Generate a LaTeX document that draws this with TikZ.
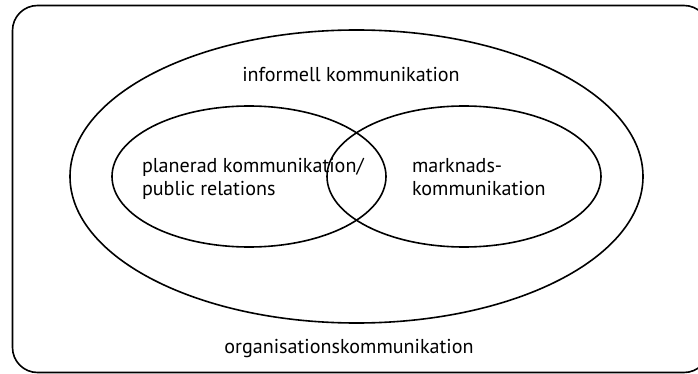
\documentclass[tikz,border=0pt]{standalone}
\usepackage{fontspec}
\setmainfont{PT Sans}
\usetikzlibrary{shapes.geometric}
\begin{document}
\begin{tikzpicture}[x=1pt,y=-1pt,
  line/.style={line width=1.6pt},
  region/.style={ellipse,draw,line,inner sep=0pt,outer sep=0pt},
  lbl/.style={inner sep=0pt,outer sep=0pt,font=\fontsize{20.1pt}{23.5pt}\selectfont}]
\useasboundingbox (0,0) rectangle (698,374);
\begin{scope}
\clip (0,0) rectangle (698,374);
\draw[line,rounded corners=25pt] (12.5,5.5) rectangle (709,372.5);
\end{scope}
\node[region,minimum width=573pt,minimum height=293pt] (big) at (356.5,176.5) {};
\node[region,minimum width=274pt,minimum height=141pt] (left) at (249,176.5) {};
\node[region,minimum width=274pt,minimum height=141pt] (right) at (464,176.5) {};
\node[lbl,anchor=base] (inf) at (351,82) {informell kommunikation};
\node[lbl,anchor=base west] (pl1) at (142,172.7) {planerad kommunikation/};
\node[lbl,anchor=base west] (pl2) at (142,196) {public relations};
\node[lbl,anchor=base west] (mk1) at (412,172.7) {marknads-};
\node[lbl,anchor=base west] (mk2) at (412,196) {kommunikation};
\node[lbl,anchor=base] (org) at (349,353) {organisationskommunikation};
\end{tikzpicture}
\end{document}
